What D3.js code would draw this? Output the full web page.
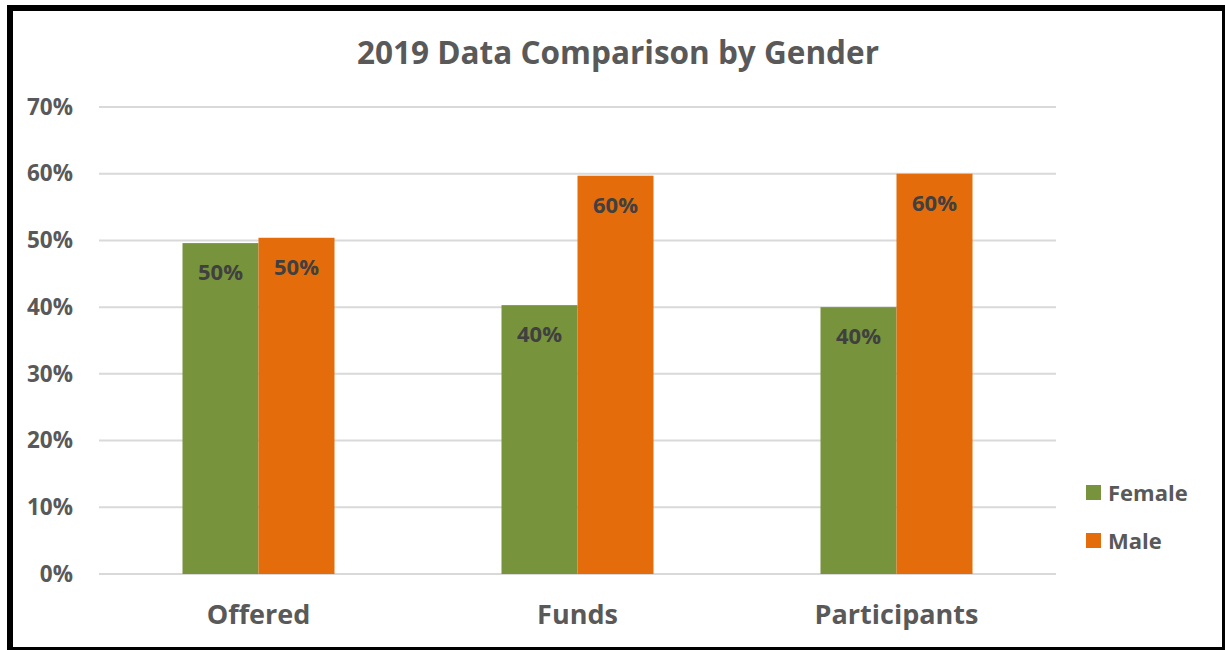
<!DOCTYPE html>
<html lang="en">
<head>
<meta charset="UTF-8">
<title>2019 Data Comparison by Gender</title>
<script src="https://cdnjs.cloudflare.com/ajax/libs/d3/7.8.5/d3.min.js"></script>
<style>
  body { margin: 0; background: #fff; }
  svg { display: block; font-family: "Open Sans", "Noto Sans", sans-serif; font-weight: bold; }
</style>
</head>
<body>
<svg id="chart" width="1225" height="650"></svg>
<script>
// data
var categories = ["Offered", "Funds", "Participants"];
var seriesNames = ["Female", "Male"];
var female = [0.496, 0.403, 0.400];
var male = [0.504, 0.597, 0.600];
var yTicks = [0, 0.1, 0.2, 0.3, 0.4, 0.5, 0.6, 0.7];

var colors = {Female: "#77933C", Male: "#E46C0A"};

var svg = d3.select("#chart");

// outer frame
svg.append("rect")
  .attr("x", 10).attr("y", 8)
  .attr("width", 1215).attr("height", 642)
  .attr("fill", "none").attr("stroke", "#000").attr("stroke-width", 6);

var margin = {left: 99, right: 1056, top: 107, bottom: 574};

var x0 = d3.scaleBand().domain(categories).range([margin.left, margin.right]).paddingInner(0).paddingOuter(0);
var x1 = d3.scaleBand().domain(seriesNames).range([0, 152]);
var y = d3.scaleLinear().domain([0, 0.7]).range([margin.bottom, margin.top]);

// gridlines
svg.append("g").selectAll("line")
  .data(yTicks)
  .enter().append("line")
  .attr("x1", margin.left).attr("x2", margin.right)
  .attr("y1", d => y(d)).attr("y2", d => y(d))
  .attr("stroke", "#D9D9D9").attr("stroke-width", 2);

// y axis labels
var yAxis = d3.axisLeft(y).tickValues(yTicks).tickFormat(d3.format(".0%")).tickSize(0).tickPadding(0);
var yG = svg.append("g").attr("transform", "translate(73,0)").call(yAxis);
yG.select(".domain").remove();
yG.selectAll("text").attr("fill", "#595959").style("font-size", "22.5px").style("font-family", "'Open Sans', sans-serif");

// bars
var rows = categories.map((c, i) => ({cat: c, values: [
  {key: "Female", v: female[i]}, {key: "Male", v: male[i]}
]}));

var groups = svg.append("g").selectAll("g")
  .data(rows).enter().append("g")
  .attr("transform", d => "translate(" + (x0(d.cat) + x0.bandwidth() / 2 - 76) + ",0)");

groups.selectAll("rect")
  .data(d => d.values).enter().append("rect")
  .attr("x", d => x1(d.key))
  .attr("width", x1.bandwidth())
  .attr("y", d => y(d.v))
  .attr("height", d => y(0) - y(d.v))
  .attr("fill", d => colors[d.key]);

groups.selectAll("text")
  .data(d => d.values).enter().append("text")
  .attr("x", d => x1(d.key) + x1.bandwidth() / 2)
  .attr("y", d => y(d.v) + 37)
  .attr("text-anchor", "middle")
  .attr("fill", "#404040")
  .style("font-size", "22px")
  .text(d => d3.format(".0%")(d.v));

// category axis
var xAxis = d3.axisBottom(x0).tickSize(0).tickPadding(0);
var xG = svg.append("g").attr("transform", "translate(0,605)").call(xAxis);
xG.select(".domain").remove();
xG.selectAll("text").attr("fill", "#595959").style("font-size", "27px").style("font-family", "'Open Sans', sans-serif");

// title
svg.append("text")
  .attr("x", 618).attr("y", 64)
  .attr("text-anchor", "middle")
  .attr("fill", "#595959")
  .style("font-size", "31.5px")
  .text("2019 Data Comparison by Gender");

// legend
var legend = svg.append("g").selectAll("g")
  .data(seriesNames).enter().append("g")
  .attr("transform", (d, i) => "translate(1086," + (485 + i * 48) + ")");
legend.append("rect").attr("width", 15).attr("height", 15).attr("fill", d => colors[d]);
legend.append("text")
  .attr("x", 22).attr("y", 15.5)
  .attr("fill", "#595959")
  .style("font-size", "22px")
  .text(d => d);
</script>
</body>
</html>
